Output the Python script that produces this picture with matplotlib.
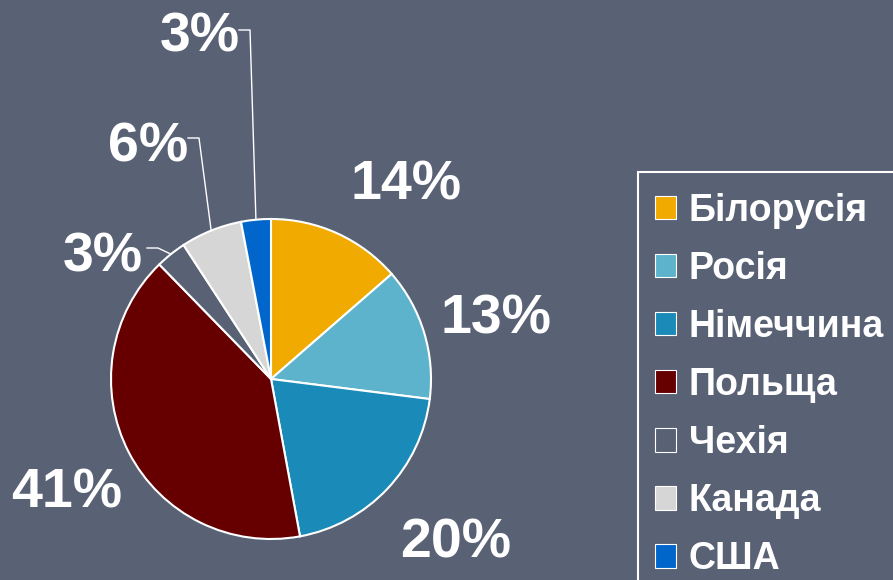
import numpy as np
import matplotlib.pyplot as plt
from matplotlib.patches import Patch, Rectangle

countries = ["Білорусія", "Росія", "Німеччина", "Польща", "Чехія", "Канада", "США"]
shares = [13.6, 13.4, 20.1, 40.6, 3.1, 6.2, 3.0]
colors = ["#F0AA00", "#5DB3CC", "#1A8AB8", "#660000", "#596175", "#D6D6D6", "#0066CC"]

BG = "#596175"
CENTER = (271, 201)
RADIUS = 160

# label text positions (pixels, y from bottom)
label_xy = [(406, 394), (496, 260), (456, 37), (67, 86), (103, 322), (148, 433), (200, 542)]
# leader elbow points for the small slices (None = no leader)
elbows = [None, None, None, None, (158, 332), (199, 442), (250, 550)]

fig = plt.figure(figsize=(8.93, 5.80), dpi=100, facecolor=BG)
ax = fig.add_axes([0, 0, 1, 1])
ax.set_facecolor(BG)

wedges, _ = ax.pie(shares, colors=colors, startangle=90, counterclock=False,
                   center=CENTER, radius=RADIUS,
                   wedgeprops=dict(edgecolor="white", linewidth=1.5))

ax.set_xlim(0, 893)
ax.set_ylim(0, 580)
ax.set_aspect("equal")
ax.axis("off")

for w, v, xy, elb in zip(wedges, shares, label_xy, elbows):
    ax.text(xy[0], xy[1], f"{v:.0f}%", ha="center", va="center", color="white",
            fontsize=40, fontweight="bold", family="Liberation Sans")
    if elb is not None:
        ang = np.deg2rad((w.theta1 + w.theta2) / 2)
        x0 = CENTER[0] + RADIUS * np.cos(ang)
        y0 = CENTER[1] + RADIUS * np.sin(ang)
        ax.plot([x0, elb[0], elb[0] - 11], [y0, elb[1], elb[1]], color="white", lw=1)

handles = [Patch(facecolor=c, edgecolor="white", linewidth=0.8) for c in colors]
leg = fig.legend(handles, countries, loc="upper left", bbox_to_anchor=(634 / 893, 1 - 172 / 580),
                 frameon=False, prop=dict(family="Liberation Sans", size=27, weight="bold"),
                 labelcolor="white", handlelength=0.58, handleheight=0.58, handletextpad=0.33,
                 labelspacing=0.59, borderpad=0.55, borderaxespad=0)

# legend box runs off the right and bottom edges, as in the original slide
fig.patches.append(Rectangle((638 / 893, -0.05), 0.5, (580 - 172) / 580 + 0.05,
                             transform=fig.transFigure, fill=False,
                             edgecolor="white", linewidth=1.5))

fig.savefig("out.png", dpi=100, facecolor=BG)
